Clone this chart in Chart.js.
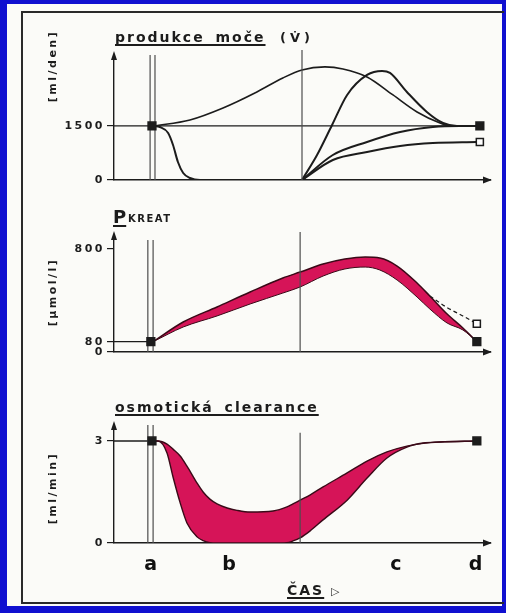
<!DOCTYPE html>
<html><head><meta charset="utf-8">
<script src="https://cdn.jsdelivr.net/npm/chart.js@4.4.1/dist/chart.umd.min.js"></script>
<style>
html,body{margin:0;padding:0;}
body{width:506px;height:613px;background:#1010d0;position:relative;overflow:hidden;font-family:"DejaVu Sans",sans-serif;color:#1c1c1c;}
#card{position:absolute;left:7px;top:4px;width:495px;height:602px;background:#fbfbf8;}
#frame{position:absolute;left:21px;top:11px;width:481px;height:589px;border-top:2px solid #2a2a2a;border-left:2px solid #2a2a2a;border-bottom:2px solid #2a2a2a;}
canvas{position:absolute;left:0;top:0;}
.t{position:absolute;white-space:nowrap;font-weight:bold;}
.u{text-decoration:underline;text-decoration-thickness:2px;text-underline-offset:2px;text-decoration-skip-ink:none;}
.title{font-size:14px;line-height:14px;letter-spacing:2px;word-spacing:4px;}
.ylab{font-size:11px;line-height:11px;letter-spacing:2.5px;transform:translate(-50%,-50%) rotate(-90deg);}
</style></head>
<body>
<div id="card"></div>
<div id="frame"></div>
<canvas id="c1" width="506" height="613"></canvas>
<canvas id="c2" width="506" height="613"></canvas>
<canvas id="c3" width="506" height="613"></canvas>

<div class="t title u" style="left:115px;top:30px;">produkce moče</div>
<div class="t" style="left:280px;top:31px;font-size:13px;line-height:13px;letter-spacing:4px;">(V̇)</div>
<div class="t ylab" style="left:52px;top:66px;">[ml/den]</div>

<div class="t u" style="left:113px;top:208px;font-size:18px;line-height:18px;">P</div>
<div class="t" style="left:128px;top:214px;font-size:10px;line-height:10px;letter-spacing:1.5px;">KREAT</div>
<div class="t ylab" style="left:52px;top:292px;">[μmol/l]</div>

<div class="t title u" style="left:115px;top:400px;">osmotická clearance</div>
<div class="t ylab" style="left:52px;top:488px;">[ml/min]</div>

<div class="t" style="left:287px;top:583px;font-size:14px;line-height:14px;letter-spacing:2px;"><span class="u">ČAS</span> <span style="font-size:11px;">▷</span></div>

<script>
// ---------- data ----------
// time axis: 0 = y-axis, 100 = arrow tip
const phaseLabels = ['a', 'b', 'c', 'd'];
const phaseLabelPos = [10.1, 30.9, 75.3, 96.5];

// panel 1: produkce moče [ml/den]
const urineTicks = [0, 1500];
const urineMax = 3470;
const urineLinesX = [9.6, 10.9, 50.0];
const urineLinesTop = [3470, 3470, 3610];
const urineRefX = [0, 97.3];
const urineRef = [1500, 1500];
const urineArcX = [10.6, 20.2, 29.0, 38.0, 44.9, 50.0, 56.1, 60.9, 67.3, 74.2, 80.6, 86.7, 89.4, 97.3];
const urineArc = [1500, 1667, 2000, 2444, 2833, 3056, 3139, 3083, 2861, 2361, 1889, 1583, 1500, 1500];
const urineDropX = [10.6, 12.2, 14.4, 15.7, 17.0, 18.4, 20.2, 22.9, 50.0];
const urineDrop = [1500, 1472, 1306, 972, 500, 194, 56, 0, 0];
const urineAX = [50.0, 54.0, 58.0, 62.0, 67.3, 71.3, 73.4, 77.9, 83.2, 87.5, 91.2, 97.3];
const urineA = [0, 694, 1528, 2361, 2917, 3028, 2972, 2444, 1889, 1583, 1500, 1500];
const urineBX = [50.0, 58.2, 67.3, 76.1, 84.8, 92.0, 97.3];
const urineB = [0, 694, 1056, 1333, 1472, 1500, 1500];
const urineCX = [50.0, 58.2, 67.3, 76.1, 84.8, 96.5];
const urineC = [0, 556, 778, 944, 1028, 1056];
const urineFilledX = [10.1, 97.3];
const urineFilled = [1500, 1500];
const urineOpenX = [97.3];
const urineOpen = [1056];

// panel 2: P kreat [µmol/l]
const kreatTicks = [0, 80, 800];
const kreatMax = 909;
const kreatLinesX = [9.0, 10.4, 49.5];
const kreatLinesTop = [870, 870, 932];
const kreatRefX = [0, 9.8];
const kreatRef = [80, 80];
const kreatX = [10.4, 18.4, 27.4, 36.2, 44.9, 49.5, 55.6, 61.4, 66.8, 70.7, 75.3, 80.6, 84.0, 88.6, 92.8, 96.5];
const kreatHigh = [80, 233, 350, 466, 575, 621, 683, 722, 738, 730, 668, 536, 435, 295, 186, 80];
const kreatLow = [80, 194, 280, 373, 458, 505, 590, 645, 660, 637, 559, 427, 334, 225, 171, 80];
const kreatDashX = [84.0, 88.6, 92.8, 96.5];
const kreatDash = [435, 345, 280, 220];
const kreatFilledX = [9.8, 96.5];
const kreatFilled = [80, 80];
const kreatOpenX = [96.5];
const kreatOpen = [220];

// panel 3: osmotická clearance [ml/min]
const clearTicks = [0, 3];
const clearMax = 3.47;
const clearLinesX = [9.0, 10.4, 49.5];
const clearLinesTop = [3.47, 3.47, 3.24];
const clearRefX = [0, 10.1];
const clearRef = [3, 3];
const clearX = [10.4, 11.7, 14.1, 15.7, 17.6, 19.4, 22.1, 23.7, 25.5, 27.4, 30.1, 32.7, 36.2, 42.3, 46.0, 47.6, 49.5, 52.1, 55.6, 62.0, 67.3, 72.6, 77.9, 82.2, 86.7, 96.5];
const clearHigh = [3.0, 3.0, 2.91, 2.76, 2.56, 2.26, 1.76, 1.50, 1.29, 1.15, 1.03, 0.96, 0.91, 0.94, 1.06, 1.15, 1.26, 1.41, 1.65, 2.06, 2.41, 2.68, 2.85, 2.93, 2.97, 3.0];
const clearLow = [3.0, 3.0, 2.65, 1.94, 1.18, 0.59, 0.18, 0.07, 0.01, 0, 0, 0, 0, 0, 0.01, 0.06, 0.15, 0.35, 0.68, 1.26, 1.91, 2.50, 2.82, 2.94, 2.97, 3.0];
const clearFilledX = [10.1, 96.5];
const clearFilled = [3, 3];

// ---------- helpers ----------
const INK = '#1c1c1c';
const VL = '#4d4d4d';
const BAND = 'rgb(214,20,88)';
const EDGE = '#3a0a18';
const FONT = 'DejaVu Sans';

const pts = (xs, ys) => xs.map((x, i) => ({x: x, y: ys[i]}));
const curve = (xs, ys, w, extra) => Object.assign({
  data: pts(xs, ys), borderColor: INK, borderWidth: w, cubicInterpolationMode: 'monotone',
  pointRadius: 0, fill: false, order: 2
}, extra || {});
const vlines = (xs, tops) => xs.map((x, i) => ({
  data: [{x: x, y: 0}, {x: x, y: tops[i]}], borderColor: VL, borderWidth: 1.2,
  pointRadius: 0, fill: false, clip: false, order: 1
}));
const squares = (xs, ys, filled, r) => ({
  data: pts(xs, ys), showLine: false, pointStyle: 'rect', pointRadius: r, pointHoverRadius: r,
  pointBackgroundColor: filled ? INK : '#ffffff', pointBorderColor: INK, pointBorderWidth: 1.5,
  clip: false, order: 0
});

const arrows = {
  id: 'arrows',
  beforeDraw(chart) { chart.ctx.letterSpacing = '2.5px'; },
  afterDraw(chart) {
    const {ctx, chartArea: a} = chart;
    ctx.save();
    ctx.fillStyle = INK;
    ctx.beginPath();
    ctx.moveTo(a.left, a.top - 4);
    ctx.lineTo(a.left - 3, a.top + 5);
    ctx.lineTo(a.left + 3, a.top + 5);
    ctx.closePath(); ctx.fill();
    ctx.beginPath();
    ctx.moveTo(a.right + 2, a.bottom);
    ctx.lineTo(a.right - 7, a.bottom - 3.5);
    ctx.lineTo(a.right - 7, a.bottom + 3.5);
    ctx.closePath(); ctx.fill();
    ctx.restore();
  }
};

function panel(id, o) {
  const xTicks = o.xLabels ? {
    display: true, color: '#111', padding: 3, autoSkip: false, maxRotation: 0,
    font: {family: FONT, weight: 'bold', size: 19},
    callback: (v, i) => o.xLabels[i]
  } : {display: false};
  return new Chart(document.getElementById(id), {
    type: 'line',
    data: {datasets: o.datasets},
    options: {
      responsive: false, animation: false, events: [],
      layout: {padding: o.pad},
      plugins: {legend: {display: false}, tooltip: {enabled: false}},
      scales: {
        x: {
          type: 'linear', min: 0, max: 100,
          grid: {display: false},
          border: {display: true, color: INK, width: 1.4},
          ticks: xTicks,
          afterBuildTicks(s) { if (o.xPos) s.ticks = o.xPos.map(v => ({value: v})); },
          afterFit(s) { s.height = o.xLabels ? 40 : 1; }
        },
        y: {
          type: 'linear', min: 0, max: o.yMax,
          grid: {display: true, drawOnChartArea: false, drawTicks: true, tickLength: 7, color: INK, lineWidth: 1.2},
          border: {display: true, color: INK, width: 1.4},
          ticks: {autoSkip: false, padding: 2, color: INK, font: {family: FONT, weight: 'bold', size: 11},
                  callback: v => String(v)},
          afterBuildTicks(s) { s.ticks = o.yTicks.map(v => ({value: v})); },
          afterFit(s) { s.width = 70; }
        }
      }
    },
    plugins: [arrows]
  });
}

// panel 1
panel('c1', {
  yMax: urineMax, yTicks: urineTicks,
  pad: {left: 44, right: 16, top: 55, bottom: 613 - 180 - 1},
  datasets: [
    squares(urineFilledX, urineFilled, true, 5.5),
    squares(urineOpenX, urineOpen, false, 5),
    ...vlines(urineLinesX, urineLinesTop),
    curve(urineRefX, urineRef, 1.3, {cubicInterpolationMode: 'default', tension: 0}),
    curve(urineArcX, urineArc, 1.6),
    curve(urineDropX, urineDrop, 2),
    curve(urineAX, urineA, 2),
    curve(urineBX, urineB, 2),
    curve(urineCX, urineC, 2)
  ]
});

// panel 2
panel('c2', {
  yMax: kreatMax, yTicks: kreatTicks,
  pad: {left: 44, right: 16, top: 235, bottom: 613 - 352 - 1},
  datasets: [
    squares(kreatFilledX, kreatFilled, true, 5.5),
    squares(kreatOpenX, kreatOpen, false, 5),
    ...vlines(kreatLinesX, kreatLinesTop),
    curve(kreatRefX, kreatRef, 1.3, {cubicInterpolationMode: 'default', tension: 0}),
    curve(kreatDashX, kreatDash, 1.3, {borderDash: [4, 3]}),
    curve(kreatX, kreatHigh, 1.5, {borderColor: EDGE, order: 3}),
    curve(kreatX, kreatLow, 1, {borderColor: EDGE, fill: '-1', backgroundColor: BAND, order: 3})
  ]
});

// panel 3
panel('c3', {
  yMax: clearMax, yTicks: clearTicks,
  xLabels: phaseLabels, xPos: phaseLabelPos,
  pad: {left: 44, right: 16, top: 425, bottom: 613 - 543 - 40},
  datasets: [
    squares(clearFilledX, clearFilled, true, 5.5),
    ...vlines(clearLinesX, clearLinesTop),
    curve(clearRefX, clearRef, 1.3, {cubicInterpolationMode: 'default', tension: 0}),
    curve(clearX, clearHigh, 1.4, {borderColor: EDGE, order: 3}),
    curve(clearX, clearLow, 1.4, {borderColor: EDGE, fill: '-1', backgroundColor: BAND, order: 3})
  ]
});
</script>
</body></html>
